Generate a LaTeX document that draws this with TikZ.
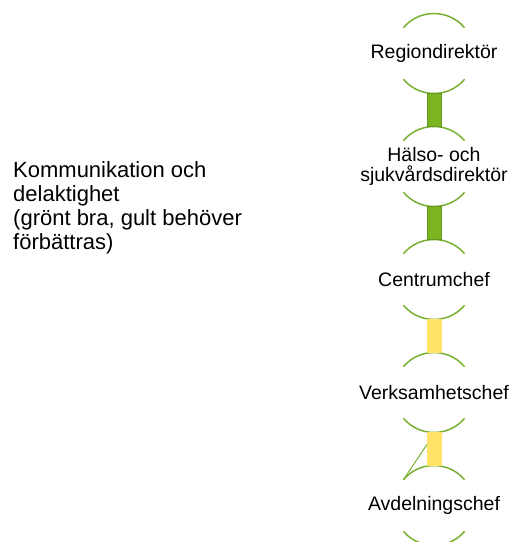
\documentclass[tikz,border=0pt]{standalone}
\usepackage{fontspec}
\setmainfont{Liberation Sans}
\usetikzlibrary{positioning}
\definecolor{arcgreen}{RGB}{122,176,50}
\definecolor{leafgreen}{RGB}{124,180,34}
\definecolor{barline}{RGB}{98,150,30}
\definecolor{sunyellow}{RGB}{255,226,102}

\begin{document}
\begin{tikzpicture}[x=1pt,y=1pt,node distance=113pt,on grid,
		role/.style={font=\fontsize{19.5}{20}\selectfont, align=center},
		rim/.style={arcgreen, line width=1.5pt},
		good/.style={fill=leafgreen, draw=barline, line width=1pt},
		fair/.style={fill=sunyellow, draw=sunyellow}]
			\useasboundingbox (0,0) rectangle (512,542);
			\node[anchor=north west, inner sep=0pt, align=left, font=\fontsize{22}{24}\selectfont] (topic) at (13,381)
			{Kommunikation och\\delaktighet\\(grönt bra, gult behöver\\förbättras)};
			\node[role] (reg) at (434,488.5) {Regiondirektör};
			\node[role] (hsd) [below=of reg] {Hälso- och\\sjukvårdsdirektör};
			\node[role] (cen) [below=of hsd] {Centrumchef};
			\node[role] (vch) [below=of cen] {Verksamhetschef};
			\node[role] (avd) [below=of vch] {Avdelningschef};
			\foreach \n in {reg,hsd,cen,vch,avd}
			\draw[rim] (\n.center) ++(40:40pt) arc[start angle=40, end angle=140, radius=40pt]
			(\n.center) ++(220:40pt) arc[start angle=220, end angle=320, radius=40pt];
			\draw[good] ([shift={(-7,-40)}]reg.center) rectangle ([shift={(7,40)}]hsd.center);
			\draw[good] ([shift={(-7,-40)}]hsd.center) rectangle ([shift={(7,40)}]cen.center);
			\draw[fair] ([shift={(-7,-40)}]cen.center) rectangle ([shift={(7,40)}]vch.center);
			\draw[fair] ([shift={(-7,-40)}]vch.center) rectangle ([shift={(7,40)}]avd.center);
			\draw[rim, line width=1pt] ([shift={(-7,-52)}]vch.center) -- ([shift={(140:40pt)}]avd.center);
		\end{tikzpicture}
\end{document}
